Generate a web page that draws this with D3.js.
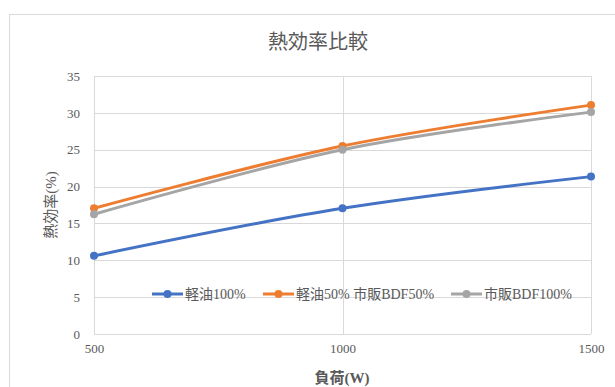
<!DOCTYPE html>
<html>
<head>
<meta charset="utf-8">
<script src="https://cdn.jsdelivr.net/npm/d3@7"></script>
<style>
  html, body { margin: 0; padding: 0; background: #fff; }
  svg text { font-family: "Liberation Serif", "DejaVu Serif", "Noto Sans CJK JP", serif; }
</style>
</head>
<body>
<svg id="chart" width="615" height="387"></svg>
<script>
// Load (W) on the x axis
const loads = [500, 1000, 1500];
// Thermal efficiency (%) for each fuel
const diesel100 = [10.6, 17.05, 21.35];
const diesel50bdf50 = [17.05, 25.5, 31.05];
const bdf100 = [16.25, 25.0, 30.1];
const seriesNames = ["軽油100%", "軽油50% 市販BDF50%", "市販BDF100%"];
const seriesColors = ["#4472C4", "#ED7D31", "#A5A5A5"];
const yTicks = [0, 5, 10, 15, 20, 25, 30, 35];
const xTicks = [500, 1000, 1500];

const series = [diesel100, diesel50bdf50, bdf100].map((vals, i) => ({
  name: seriesNames[i],
  color: seriesColors[i],
  points: loads.map((x, j) => ({ x, y: vals[j] }))
}));

const svg = d3.select("#chart");
const plotL = 94, plotR = 591, plotT = 76, plotB = 334;

// Outer chart frame
svg.append("rect")
  .attr("x", 9.5).attr("y", 14.5)
  .attr("width", 640).attr("height", 400)
  .attr("fill", "#fff").attr("stroke", "#d9d9d9").attr("stroke-width", 1);

const x = d3.scaleLinear().domain([500, 1500]).range([plotL, plotR]);
const y = d3.scaleLinear().domain([0, 35]).range([plotB, plotT]);

// Horizontal gridlines
svg.append("g").selectAll("line").data(yTicks).join("line")
  .attr("x1", plotL).attr("x2", plotR)
  .attr("y1", d => Math.round(y(d)) + 0.5).attr("y2", d => Math.round(y(d)) + 0.5)
  .attr("stroke", "#d9d9d9").attr("stroke-width", 1);

// Vertical gridlines
svg.append("g").selectAll("line").data(xTicks).join("line")
  .attr("y1", plotT).attr("y2", plotB)
  .attr("x1", d => Math.round(x(d)) + 0.5).attr("x2", d => Math.round(x(d)) + 0.5)
  .attr("stroke", "#d9d9d9").attr("stroke-width", 1);

// Y tick labels
const yAxis = d3.axisLeft(y).tickValues(yTicks).tickSize(0).tickPadding(14);
const gy = svg.append("g").attr("transform", `translate(${plotL},0)`).call(yAxis);
gy.select(".domain").remove();
gy.selectAll("text").attr("fill", "#595959").style("font-size", "13px");

// X tick labels
const xAxis = d3.axisBottom(x).tickValues(xTicks).tickSize(0).tickPadding(10).tickFormat(d3.format("d"));
const gx = svg.append("g").attr("transform", `translate(0,${plotB})`).call(xAxis);
gx.select(".domain").remove();
gx.selectAll("text").attr("fill", "#595959").style("font-size", "13px");

// Title
svg.append("text")
  .attr("x", 318).attr("y", 49)
  .attr("text-anchor", "middle")
  .attr("fill", "#595959")
  .style("font-size", "20px")
  .text("熱効率比較");

// Axis titles
svg.append("text")
  .attr("x", 342).attr("y", 383)
  .attr("text-anchor", "middle")
  .attr("fill", "#595959")
  .style("font-size", "15px")
  .style("font-weight", "bold")
  .text("負荷(W)");

svg.append("text")
  .attr("transform", "translate(56,205) rotate(-90)")
  .attr("text-anchor", "middle")
  .attr("fill", "#595959")
  .style("font-size", "15px")
  .text("熱効率(%)");

// Smoothed series lines
const line = d3.line().x(d => x(d.x)).y(d => y(d.y)).curve(d3.curveCatmullRom.alpha(0));
const gs = svg.append("g").selectAll("g").data(series).join("g");
gs.append("path")
  .attr("d", d => line(d.points))
  .attr("fill", "none")
  .attr("stroke", d => d.color)
  .attr("stroke-width", 3)
  .attr("stroke-linecap", "round");
gs.selectAll("circle").data(d => d.points.map(p => ({ ...p, color: d.color }))).join("circle")
  .attr("cx", d => x(d.x)).attr("cy", d => y(d.y)).attr("r", 4)
  .attr("fill", d => d.color);

// Legend inside the plot area
const legendX = [152, 263, 451];
const legend = svg.append("g").selectAll("g").data(series).join("g")
  .attr("transform", (d, i) => `translate(${legendX[i]},294)`);
legend.append("line")
  .attr("x1", 0).attr("x2", 31).attr("y1", 0).attr("y2", 0)
  .attr("stroke", d => d.color).attr("stroke-width", 3);
legend.append("circle")
  .attr("cx", 15.5).attr("cy", 0).attr("r", 4).attr("fill", d => d.color);
legend.append("text")
  .attr("x", 33).attr("y", 5)
  .attr("fill", "#595959")
  .style("font-size", "14px")
  .text(d => d.name);
</script>
</body>
</html>
